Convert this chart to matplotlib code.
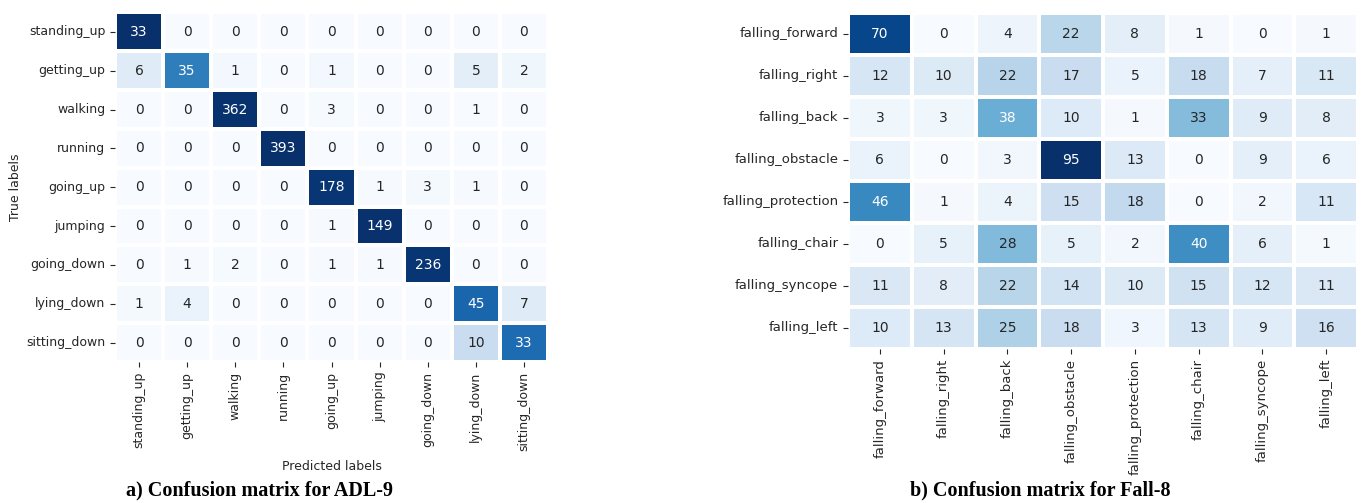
import numpy as np
import seaborn as sns
from matplotlib import pyplot as plt

# ADL-9 confusion matrix (rows: true, cols: predicted)
adl_labels = ['standing_up', 'getting_up', 'walking', 'running', 'going_up',
              'jumping', 'going_down', 'lying_down', 'sitting_down']
adl_counts = [
    [33, 0, 0, 0, 0, 0, 0, 0, 0],
    [6, 35, 1, 0, 1, 0, 0, 5, 2],
    [0, 0, 362, 0, 3, 0, 0, 1, 0],
    [0, 0, 0, 393, 0, 0, 0, 0, 0],
    [0, 0, 0, 0, 178, 1, 3, 1, 0],
    [0, 0, 0, 0, 1, 149, 0, 0, 0],
    [0, 1, 2, 0, 1, 1, 236, 0, 0],
    [1, 4, 0, 0, 0, 0, 0, 45, 7],
    [0, 0, 0, 0, 0, 0, 0, 10, 33],
]

# Fall-8 confusion matrix
fall_labels = ['falling_forward', 'falling_right', 'falling_back', 'falling_obstacle',
               'falling_protection', 'falling_chair', 'falling_syncope', 'falling_left']
fall_counts = [
    [70, 0, 4, 22, 8, 1, 0, 1],
    [12, 10, 22, 17, 5, 18, 7, 11],
    [3, 3, 38, 10, 1, 33, 9, 8],
    [6, 0, 3, 95, 13, 0, 9, 6],
    [46, 1, 4, 15, 18, 0, 2, 11],
    [0, 5, 28, 5, 2, 40, 6, 1],
    [11, 8, 22, 14, 10, 15, 12, 11],
    [10, 13, 25, 18, 3, 13, 9, 16],
]

captions = ['a) Confusion matrix for ADL-9', 'b) Confusion matrix for Fall-8']

W, H = 1365, 503
fig = plt.figure(figsize=(W / 100, H / 100), dpi=100)
plt.rcParams['text.color'] = '#262626'


def box(x0, y0, x1, y1):
    return [x0 / W, 1 - y1 / H, (x1 - x0) / W, (y1 - y0) / H]


def draw_cm(ax, counts, labels, size):
    cm = np.array(counts)
    # colour by row-normalised rate, annotate with raw counts
    rates = cm / cm.sum(axis=1, keepdims=True)
    sns.heatmap(rates, annot=cm, fmt='d', cmap='Blues', cbar=False,
                linewidths=1.5, linecolor='white', ax=ax,
                xticklabels=labels, yticklabels=labels,
                annot_kws={'fontsize': 10})
    ax.tick_params(axis='both', labelsize=size, colors='#262626', length=3.5)
    ax.set_xticklabels(labels, rotation=90)
    ax.set_yticklabels(labels, rotation=0)


ax1 = fig.add_axes(box(115, 12.5, 548, 362))
draw_cm(ax1, adl_counts, adl_labels, 9)
ax1.set_xlabel('Predicted labels', fontsize=9, color='#262626')
ax1.set_ylabel('True labels', fontsize=9, color='#262626')
ax1.xaxis.set_label_coords(0.5, -0.28)
ax1.yaxis.set_label_coords(-0.215, 0.5)

ax2 = fig.add_axes(box(848, 13, 1358, 349))
draw_cm(ax2, fall_counts, fall_labels, 9.5)

fig.text(260 / W, 1 - 490 / H, captions[0], ha='center', va='center',
         fontsize=14.5, fontweight='bold', family='Liberation Serif', color='black')
fig.text(1040 / W, 1 - 490 / H, captions[1], ha='center', va='center',
         fontsize=14.5, fontweight='bold', family='Liberation Serif', color='black')

fig.savefig('out.png', dpi=100)
